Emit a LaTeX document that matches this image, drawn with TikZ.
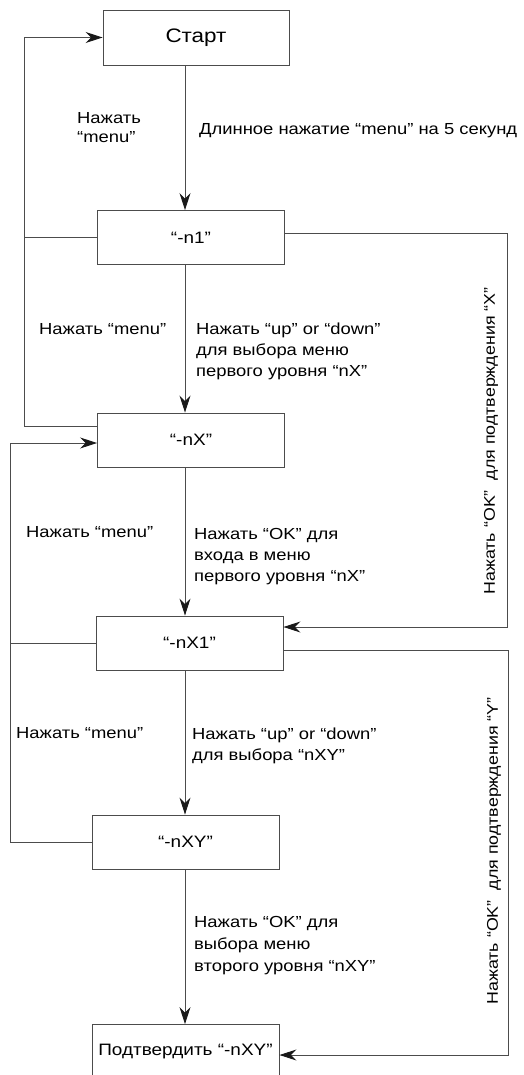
\documentclass[tikz,border=0pt]{standalone}
\usepackage{fontspec}
\setmainfont{Liberation Sans}[FakeStretch=1.15]
\usetikzlibrary{arrows.meta}
\begin{document}
\begin{tikzpicture}[x=1pt,y=-1pt,
  box/.style={draw=black!70,line width=0.9pt,minimum width=187pt,minimum height=54pt,
    inner sep=0pt,font=\fontsize{16.5}{20}\selectfont},
  link/.style={draw=black!70,line width=0.9pt},
  arr/.style={link,-{Stealth[length=17pt,width=11pt,inset=5.5pt,black!90]}},
  lbl/.style={anchor=base west,align=left,inner sep=0pt,font=\fontsize{16}{21}\selectfont}]
  \useasboundingbox (0,0) rectangle (524,1075);
  % Блоки
  \node[box,minimum width=186pt,minimum height=55pt,font=\fontsize{19.5}{24}\selectfont]
    (start) at (196,37.5) {Старт};
  \foreach \nm/\cx/\cy/\txt in {n1/191/237.5/“-n1”, nx/191/440/“-nX”,
      nx1/189.5/643/“-nX1”, nxy/185.5/842/“-nXY”,
      confirm/185.5/1051.5/Подтвердить “-nXY”}
    \node[box] (\nm) at (\cx,\cy) {\txt};
  % Основная ветвь вниз
  \coordinate (spine) at (185,0);
  \foreach \a/\b in {start/n1, n1/nx, nx/nx1, nx1/nxy, nxy/confirm}
    \draw[arr] (\a.south -| spine) -- (\b.north -| spine);
  % Возвраты слева
  \coordinate (loopA) at (24,37.5);
  \draw[arr] ([yshift=14pt]nx.west) -| (loopA) -- (start.west);
  \draw[link] (n1.west) -- (n1.west -| loopA);
  \coordinate (loopB) at (10,443);
  \draw[arr] (nxy.west) -| (loopB) -- ([yshift=-3pt]nx.west);
  \draw[link] (nx1.west) -- (nx1.west -| loopB);
  % Подтверждения справа
  \coordinate (loopC) at (507,627);
  \draw[arr] ([yshift=4.5pt]n1.east) -| (loopC) -- ([yshift=16pt]nx1.east);
  \coordinate (loopD) at (508,1055);
  \draw[arr] ([yshift=-7pt]nx1.east) -| (loopD) -- ([yshift=-3.5pt]confirm.east);
  % Подписи (точка привязки - последняя строка)
  \node[lbl,font=\fontsize{16}{19}\selectfont] (pressA) at (77,143) {Нажать\\“menu”};
  \node[lbl] (longpress) at (199,135) {Длинное нажатие “menu” на 5 секунд};
  \node[lbl] (pressB) at (39,334) {Нажать “menu”};
  \node[lbl] (selX) at (196,376) {Нажать “up” or “down”\\для выбора меню\\первого уровня “nX”};
  \node[lbl] (pressC) at (26,537) {Нажать “menu”};
  \node[lbl] (enterX) at (194,581) {Нажать “OK” для\\входа в меню\\первого уровня “nX”};
  \node[lbl] (pressD) at (16,738) {Нажать “menu”};
  \node[lbl] (selY) at (192,760) {Нажать “up” or “down”\\для выбора “nXY”};
  \node[lbl,font=\fontsize{16}{22}\selectfont] (enterY) at (194,971)
    {Нажать “OK” для\\выбора меню\\второго уровня “nXY”};
  \node[rotate=90,inner sep=0pt,font=\fontsize{15.5}{21}\selectfont] (okX) at (491,441)
    {Нажать “OK”\ \ для подтверждения “X”};
  \node[rotate=90,inner sep=0pt,font=\fontsize{15.5}{21}\selectfont] (okY) at (494,851)
    {Нажать “OK”\ \ для подтверждения “Y”};
\end{tikzpicture}
\end{document}
